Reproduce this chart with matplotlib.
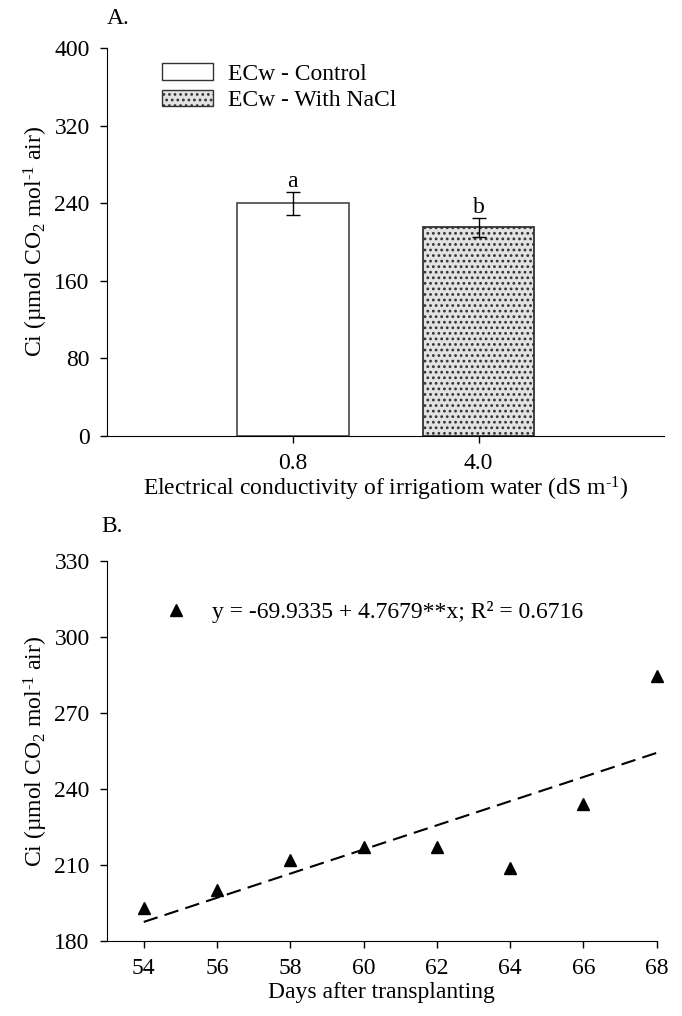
import matplotlib
matplotlib.use('Agg')
import matplotlib.pyplot as plt
import numpy as np
from matplotlib.patches import Patch
from matplotlib.lines import Line2D

plt.rcParams['font.family'] = ['Liberation Serif', 'DejaVu Serif']
plt.rcParams['mathtext.fontset'] = 'custom'
plt.rcParams['mathtext.rm'] = 'Liberation Serif'
plt.rcParams['mathtext.it'] = 'Liberation Serif:italic'
plt.rcParams['mathtext.default'] = 'regular'
plt.rcParams['font.size'] = 17
plt.rcParams['hatch.linewidth'] = 1.2

FS = 17

# panel A data
ec_labels = ['0.8', '4.0']
ci_means = [240, 215]
ci_errs = [12, 10]
letters = ['a', 'b']
legend_labels = ['ECw - Control', 'ECw - With NaCl']

# panel B data
days = [54, 56, 58, 60, 62, 64, 66, 68]
ci_days = [193, 200, 212, 217, 217, 209, 234, 284.5]
b0, b1 = -69.9335, 4.7679
eq_label = 'y = -69.9335 + 4.7679**x; R² = 0.6716'

ylab = r'Ci (µmol CO$_2$ mol$^{\text{-1}}$ air)'

fig = plt.figure(figsize=(6.82, 10.16), dpi=100)
axA = fig.add_axes([0.157, 0.5709, 0.817, 0.3819])
axB = fig.add_axes([0.157, 0.0738, 0.806, 0.374])

for ax in (axA, axB):
    ax.spines['top'].set_visible(False)
    ax.spines['right'].set_visible(False)
    ax.tick_params(direction='out', length=5, width=1, labelsize=FS, pad=7.5)

# ---- A ----
pos = [1, 2]
axA.bar(pos[0], ci_means[0], 0.6, color='white', edgecolor='#555555', linewidth=1.3)
axA.bar(pos[1], ci_means[1], 0.6, color='#e2e2e2', edgecolor='#333333',
        linewidth=1.3, hatch='...')
axA.errorbar(pos, ci_means, yerr=ci_errs, fmt='none', ecolor='black', elinewidth=1, capsize=5, capthick=1)
for p, m, e, l in zip(pos, ci_means, ci_errs, letters):
    axA.annotate(l, (p, m + e), xytext=(0, 0), textcoords='offset points', ha='center', va='bottom', fontsize=FS)
axA.set_xlim(0, 3)
axA.set_ylim(0, 400)
axA.set_yticks(np.arange(0, 401, 80))
axA.set_xticks(pos)
axA.set_xticklabels(ec_labels)
axA.set_xlabel(r'Electrical conductivity of irrigatiom water (dS m$^{\text{-1}}$)', fontsize=FS, labelpad=0)
axA.set_ylabel(ylab, fontsize=FS, labelpad=3)
handles = [Patch(facecolor='white', edgecolor='#333333'),
           Patch(facecolor='#e2e2e2', edgecolor='#333333', hatch='...')]
axA.legend(handles, legend_labels, loc='upper left', bbox_to_anchor=(0.099, 0.96), frameon=False,
           borderpad=0, borderaxespad=0, handlelength=2.15, handleheight=0.7, handletextpad=0.65,
           labelspacing=0.2, fontsize=FS)
axA.text(0.0, 1.075, 'A.', transform=axA.transAxes, fontsize=FS, ha='left', va='center')

# ---- B ----
axB.plot(days, ci_days, linestyle='none', marker='^', color='black', markersize=9, clip_on=False)
xs = np.array([days[0], days[-1]])
axB.plot(xs, b0 + b1 * xs, color='black', linestyle=(0, (7, 3.5)), linewidth=1.5)
axB.set_xlim(53, 68)
axB.set_ylim(180, 330)
axB.set_yticks(np.arange(180, 331, 30))
axB.set_xticks(np.arange(54, 69, 2))
axB.set_xlabel('Days after transplanting', fontsize=FS, labelpad=2)
axB.set_ylabel(ylab, fontsize=FS, labelpad=3)
axB.legend([Line2D([], [], linestyle='none', marker='^', color='black', markersize=9)], [eq_label],
           loc='center left', bbox_to_anchor=(0.108, 0.866), frameon=False, borderpad=0,
           borderaxespad=0, handlelength=0.8, handletextpad=1.15, numpoints=1, fontsize=FS)
axB.text(-0.01, 1.09, 'B.', transform=axB.transAxes, fontsize=FS, ha='left', va='center')

fig.savefig('out.png', dpi=100)
